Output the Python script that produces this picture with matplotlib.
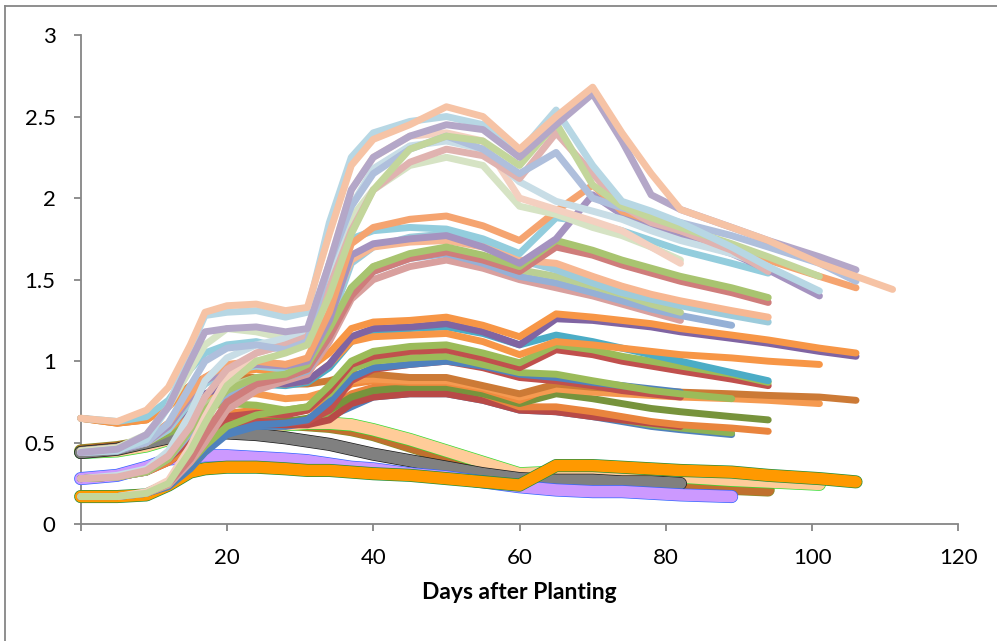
"""Leaf area index curves over the growing season."""

from __future__ import annotations

import matplotlib

matplotlib.use("Agg")

import matplotlib.pyplot as plt
from matplotlib.lines import Line2D


# Sampling days shared by every series (each series stops at its own last day).
DAYS = [
    0, 5, 9, 12, 15, 17, 20, 24, 28, 31, 34, 37, 40, 45,
    50, 55, 60, 65, 70, 74, 78, 82, 89, 94, 101, 106, 111,
]

X_TICKS = [0, 20, 40, 60, 80, 100, 120]
X_TICK_LABELS = ["", "20", "40", "60", "80", "100", "120"]
Y_TICKS = [0, 0.5, 1, 1.5, 2, 2.5, 3]
Y_TICK_LABELS = ["0", "0.5", "1", "1.5", "2", "2.5", "3"]

# Lines with markers (low values).
gray_marked = [0.44, 0.46, 0.5, 0.53, 0.55, 0.56, 0.56, 0.55, 0.53, 0.51, 0.49,
               0.46, 0.43, 0.39, 0.35, 0.31, 0.28, 0.27, 0.27, 0.26, 0.26, 0.25]
lavender_marked = [0.28, 0.3, 0.35, 0.4, 0.41, 0.42, 0.42, 0.41, 0.4, 0.39, 0.37,
                   0.35, 0.34, 0.31, 0.29, 0.26, 0.23, 0.21, 0.2, 0.2, 0.19,
                   0.18, 0.17]
orange_marked = [0.17, 0.17, 0.18, 0.24, 0.32, 0.34, 0.35, 0.35, 0.34, 0.33,
                 0.33, 0.32, 0.31, 0.3, 0.28, 0.26, 0.24, 0.36, 0.36, 0.35,
                 0.34, 0.33, 0.32, 0.3, 0.28, 0.26]
brown_marked = [0.45, 0.47, 0.5, 0.55, 0.58, 0.6, 0.62, 0.63, 0.62, 0.61, 0.6,
                0.58, 0.55, 0.48, 0.41, 0.34, 0.27, 0.25, 0.24, 0.24, 0.23,
                0.23, 0.22, 0.21]
peach_marked = [0.44, 0.45, 0.48, 0.52, 0.55, 0.56, 0.58, 0.6, 0.61, 0.62, 0.62,
                0.61, 0.58, 0.52, 0.45, 0.38, 0.31, 0.32, 0.32, 0.31, 0.3, 0.29,
                0.27, 0.26, 0.245]

# Darker solid lines (middle values).
dark_orange_a = [0.65, 0.62, 0.64, 0.72, 0.85, 0.9, 0.92, 0.95, 0.93, 0.95,
                 1.05, 1.2, 1.24, 1.25, 1.27, 1.22, 1.15, 1.29, 1.27, 1.25,
                 1.23, 1.2, 1.16, 1.13, 1.08, 1.05]
dark_purple = [0.45, 0.47, 0.52, 0.6, 0.72, 0.8, 0.85, 0.88, 0.86, 0.88, 0.98,
               1.15, 1.2, 1.21, 1.23, 1.18, 1.1, 1.26, 1.25, 1.23, 1.21, 1.18,
               1.14, 1.11, 1.06, 1.03]
dark_orange_b = [0.44, 0.46, 0.5, 0.58, 0.7, 0.78, 0.84, 0.87, 0.86, 0.88, 0.98,
                 1.12, 1.15, 1.16, 1.17, 1.12, 1.04, 1.12, 1.1, 1.08, 1.06,
                 1.04, 1.02, 1.0, 0.98]
dark_aqua = [0.28, 0.29, 0.33, 0.42, 0.6, 0.72, 0.82, 0.86, 0.85, 0.87, 0.96,
             1.12, 1.18, 1.2, 1.21, 1.17, 1.1, 1.16, 1.12, 1.08, 1.04, 1.0,
             0.93, 0.88]
dark_green_a = [0.17, 0.17, 0.19, 0.25, 0.38, 0.48, 0.6, 0.67, 0.7, 0.72, 0.85,
                1.0, 1.06, 1.09, 1.1, 1.05, 0.99, 1.1, 1.07, 1.03, 1.0, 0.97,
                0.92, 0.87]
dark_red_a = [0.28, 0.29, 0.32, 0.4, 0.55, 0.62, 0.66, 0.68, 0.67, 0.7, 0.82,
              0.98, 1.03, 1.06, 1.07, 1.02, 0.96, 1.07, 1.04, 1.0, 0.97, 0.94,
              0.89, 0.85]
dark_green_b = [0.45, 0.46, 0.5, 0.58, 0.68, 0.72, 0.74, 0.73, 0.7, 0.72, 0.8,
                0.95, 1.0, 1.02, 1.03, 0.98, 0.93, 0.92, 0.88, 0.85, 0.82, 0.8,
                0.77]
dark_blue_a = [0.17, 0.17, 0.19, 0.24, 0.36, 0.46, 0.56, 0.61, 0.62, 0.64, 0.75,
               0.9, 0.96, 0.98, 1.0, 0.97, 0.92, 0.9, 0.87, 0.85, 0.83, 0.81]
dark_red_b = [0.28, 0.29, 0.33, 0.4, 0.52, 0.58, 0.62, 0.63, 0.62, 0.63, 0.7,
              0.88, 0.95, 0.98, 1.0, 0.96, 0.9, 0.88, 0.85, 0.82, 0.8, 0.78]
dark_brown = [0.65, 0.62, 0.64, 0.75, 0.85, 0.88, 0.9, 0.9, 0.86, 0.86, 0.88,
              0.92, 0.92, 0.9, 0.9, 0.85, 0.8, 0.86, 0.84, 0.83, 0.82, 0.81,
              0.8, 0.79, 0.78, 0.76]
dark_orange_c = [0.45, 0.47, 0.52, 0.62, 0.72, 0.76, 0.8, 0.8, 0.77, 0.78, 0.82,
                 0.88, 0.89, 0.88, 0.88, 0.84, 0.78, 0.83, 0.81, 0.8, 0.79,
                 0.78, 0.77, 0.76, 0.74]
dark_orange_d = [0.28, 0.29, 0.33, 0.42, 0.55, 0.62, 0.68, 0.7, 0.68, 0.7, 0.76,
                 0.86, 0.88, 0.87, 0.87, 0.83, 0.76, 0.85, 0.84, 0.82, 0.81,
                 0.8, 0.79, 0.78]
dark_olive = [0.17, 0.17, 0.19, 0.24, 0.36, 0.46, 0.58, 0.63, 0.63, 0.65, 0.7,
              0.78, 0.82, 0.84, 0.84, 0.8, 0.74, 0.8, 0.77, 0.74, 0.71, 0.69,
              0.66, 0.64]
dark_orange_e = [0.28, 0.29, 0.32, 0.38, 0.48, 0.55, 0.62, 0.64, 0.63, 0.64,
                 0.7, 0.8, 0.84, 0.86, 0.86, 0.8, 0.72, 0.72, 0.69, 0.66, 0.63,
                 0.61, 0.59, 0.57]
dark_green_c = [0.45, 0.46, 0.5, 0.56, 0.62, 0.64, 0.65, 0.65, 0.63, 0.63, 0.67,
                0.76, 0.8, 0.82, 0.82, 0.78, 0.72, 0.7, 0.67, 0.64, 0.61, 0.59,
                0.56]
dark_blue_b = [0.17, 0.17, 0.19, 0.23, 0.34, 0.44, 0.55, 0.6, 0.6, 0.62, 0.66,
               0.72, 0.78, 0.8, 0.8, 0.76, 0.7, 0.69, 0.66, 0.63, 0.6, 0.58,
               0.55]
dark_red_c = [0.28, 0.29, 0.32, 0.38, 0.47, 0.54, 0.6, 0.62, 0.61, 0.61, 0.64,
              0.74, 0.78, 0.8, 0.8, 0.76, 0.7, 0.69, 0.66, 0.64, 0.62, 0.6]

# Light solid lines, middle-high band.
mid_orange = [0.45, 0.47, 0.52, 0.62, 0.8, 0.9, 0.98, 1.0, 0.98, 1.02, 1.3,
              1.72, 1.82, 1.87, 1.89, 1.83, 1.74, 1.92, 2.08, 1.92, 1.86, 1.8,
              1.7, 1.62, 1.52, 1.45]
mid_purple = [0.44, 0.45, 0.5, 0.6, 0.78, 0.88, 0.95, 0.98, 0.97, 1.0, 1.25,
              1.65, 1.72, 1.75, 1.77, 1.7, 1.6, 1.75, 2.02, 1.9, 1.82, 1.76,
              1.66, 1.56, 1.4]
mid_aqua = [0.65, 0.63, 0.66, 0.76, 0.95, 1.05, 1.1, 1.12, 1.08, 1.12, 1.45,
            1.75, 1.8, 1.82, 1.81, 1.75, 1.66, 1.88, 1.85, 1.8, 1.74, 1.68,
            1.6, 1.54]
mid_green = [0.28, 0.29, 0.32, 0.4, 0.58, 0.7, 0.82, 0.9, 0.92, 0.98, 1.2,
             1.45, 1.58, 1.66, 1.7, 1.65, 1.58, 1.74, 1.68, 1.62, 1.57, 1.52,
             1.45, 1.39]
mid_red = [0.17, 0.17, 0.19, 0.25, 0.4, 0.55, 0.75, 0.86, 0.9, 0.95, 1.15,
           1.4, 1.55, 1.63, 1.67, 1.62, 1.55, 1.7, 1.65, 1.59, 1.54, 1.49,
           1.42, 1.36]
mid_peach = [0.45, 0.46, 0.5, 0.6, 0.78, 0.9, 0.97, 1.0, 0.98, 1.0, 1.3, 1.62,
             1.7, 1.73, 1.74, 1.7, 1.62, 1.6, 1.52, 1.46, 1.41, 1.37, 1.31,
             1.27]
mid_steel = [0.28, 0.29, 0.32, 0.4, 0.56, 0.68, 0.8, 0.88, 0.9, 0.94, 1.15,
             1.42, 1.55, 1.63, 1.66, 1.6, 1.52, 1.48, 1.42, 1.37, 1.32, 1.28,
             1.22]
mid_rose = [0.17, 0.17, 0.19, 0.24, 0.38, 0.5, 0.7, 0.82, 0.88, 0.92, 1.12,
            1.38, 1.5, 1.58, 1.62, 1.57, 1.5, 1.45, 1.4, 1.35, 1.3, 1.25]
mid_sky = [0.44, 0.45, 0.5, 0.58, 0.75, 0.86, 0.94, 0.97, 0.95, 0.98, 1.22,
           1.6, 1.7, 1.76, 1.78, 1.72, 1.62, 1.56, 1.48, 1.42, 1.38, 1.34,
           1.28, 1.24]
mid_sage = [0.28, 0.29, 0.33, 0.42, 0.6, 0.72, 0.84, 0.9, 0.9, 0.95, 1.18,
            1.45, 1.58, 1.65, 1.68, 1.63, 1.56, 1.52, 1.46, 1.41, 1.35, 1.3]

# Palest solid lines, highest band.
top_peach = [0.65, 0.63, 0.7, 0.84, 1.1, 1.3, 1.34, 1.35, 1.31, 1.33, 1.78,
             2.2, 2.36, 2.45, 2.56, 2.5, 2.3, 2.5, 2.68, 2.4, 2.15, 1.93,
             1.82, 1.74, 1.6, 1.52, 1.44]
top_lilac = [0.44, 0.46, 0.55, 0.72, 1.0, 1.18, 1.2, 1.21, 1.18, 1.2, 1.6,
             2.05, 2.25, 2.38, 2.45, 2.42, 2.25, 2.45, 2.64, 2.35, 2.02, 1.93,
             1.82, 1.74, 1.64, 1.56]
top_blue = [0.44, 0.45, 0.52, 0.72, 1.08, 1.28, 1.3, 1.31, 1.27, 1.3, 1.85,
            2.25, 2.4, 2.47, 2.5, 2.45, 2.28, 2.54, 2.2, 1.98, 1.92, 1.85,
            1.7, 1.58, 1.43]
top_green = [0.17, 0.17, 0.19, 0.25, 0.45, 0.62, 0.85, 1.0, 1.05, 1.1, 1.4,
             1.78, 2.05, 2.3, 2.38, 2.35, 2.2, 2.46, 2.08, 1.95, 1.88, 1.82,
             1.72, 1.64, 1.52]
top_pink = [0.28, 0.29, 0.33, 0.42, 0.6, 0.78, 0.95, 1.05, 1.1, 1.15, 1.45,
            1.8, 2.05, 2.22, 2.3, 2.26, 2.12, 2.4, 2.15, 1.95, 1.85, 1.8,
            1.68, 1.55]
top_periwinkle = [0.44, 0.46, 0.5, 0.62, 0.85, 1.0, 1.08, 1.1, 1.07, 1.12, 1.6,
                  1.95, 2.15, 2.3, 2.38, 2.3, 2.15, 2.28, 2.0, 1.94, 1.9,
                  1.85, 1.77, 1.7, 1.6, 1.49]
top_sage = [0.45, 0.47, 0.55, 0.72, 0.95, 1.1, 1.2, 1.18, 1.14, 1.15, 1.5,
            1.88, 2.05, 2.2, 2.25, 2.2, 1.95, 1.9, 1.82, 1.77, 1.7, 1.62]
top_shell = [0.17, 0.17, 0.2, 0.27, 0.48, 0.66, 0.9, 1.05, 1.1, 1.18, 1.6,
             2.05, 2.25, 2.38, 2.4, 2.35, 2.0, 1.93, 1.86, 1.8, 1.7, 1.6]
top_ice = [0.28, 0.3, 0.34, 0.45, 0.68, 0.88, 1.02, 1.1, 1.14, 1.18, 1.55,
           1.95, 2.18, 2.32, 2.35, 2.3, 2.1, 1.98, 1.92, 1.87, 1.8, 1.74,
           1.66, 1.58]


def plot_marked(axis, values, face, edge):
    """Thick band with a thin outline, the low-value marker style."""

    days = DAYS[: len(values)]

    axis.plot(
        days,
        values,
        color=edge,
        linewidth=9.4,
        solid_capstyle="round",
        solid_joinstyle="round",
        clip_on=False,
        zorder=3,
    )

    axis.plot(
        days,
        values,
        color=face,
        linewidth=8.4,
        solid_capstyle="round",
        solid_joinstyle="round",
        clip_on=False,
        zorder=3,
    )


def plot_solid(axis, values, color, width=5.0):
    """Plain thick line with round ends."""

    axis.plot(
        DAYS[: len(values)],
        values,
        color=color,
        linewidth=width,
        solid_capstyle="round",
        solid_joinstyle="round",
        clip_on=False,
        zorder=3,
    )


def create_chart(file_path: str = "out.png") -> str:
    plt.rcParams["font.family"] = ["Lato", "DejaVu Sans"]

    figure = plt.figure(
        figsize=(9.97, 6.41),
        dpi=100,
    )

    axis = figure.add_axes(
        [0.0809, 0.1821, 0.8804, 0.7633]
    )

    marked = [
        (brown_marked, "#C0702E", "#8C8C2A"),
        (peach_marked, "#FFCC99", "#33DD33"),
        (gray_marked, "#808080", "#1A1A1A"),
        (lavender_marked, "#CC99FF", "#3366FF"),
        (orange_marked, "#FF9900", "#1F8F3A"),
    ]

    for values, face, edge in marked:
        plot_marked(axis, values, face, edge)

    dark = [
        (dark_blue_b, "#4F81BD"),
        (dark_green_c, "#8DB255"),
        (dark_red_c, "#B84A47"),
        (dark_orange_e, "#E9843D"),
        (dark_olive, "#77933C"),
        (dark_orange_d, "#F08A3E"),
        (dark_orange_c, "#F59A50"),
        (dark_brown, "#CC7A36"),
        (dark_red_b, "#C0504D"),
        (dark_blue_a, "#4F81BD"),
        (dark_green_b, "#9BBB59"),
        (dark_red_a, "#C0504D"),
        (dark_green_a, "#9BBB59"),
        (dark_aqua, "#4BACC6"),
        (dark_orange_b, "#F79646"),
        (dark_purple, "#8064A2"),
        (dark_orange_a, "#F79646"),
    ]

    for values, color in dark:
        plot_solid(axis, values, color)

    middle = [
        (mid_rose, "#D9A09E"),
        (mid_steel, "#95B0D6"),
        (mid_sage, "#BACF93"),
        (mid_sky, "#9CCBDB"),
        (mid_peach, "#F7B792"),
        (mid_red, "#CF7D7B"),
        (mid_green, "#A8C470"),
        (mid_aqua, "#93CDDD"),
        (mid_purple, "#A593C0"),
        (mid_orange, "#F5A470"),
    ]

    for values, color in middle:
        plot_solid(axis, values, color)

    top = [
        (top_sage, "#D6E3C4"),
        (top_shell, "#F4D0C0"),
        (top_ice, "#C8DDE6"),
        (top_pink, "#E0B3B0"),
        (top_periwinkle, "#AFBFDC"),
        (top_green, "#C3D69B"),
        (top_blue, "#B7D7E4"),
        (top_lilac, "#B4A7C8"),
        (top_peach, "#F6C3A5"),
    ]

    for values, color in top:
        plot_solid(axis, values, color)

    axis.set_xlim(0, 120)
    axis.set_ylim(0, 3)

    axis.set_xticks(X_TICKS)
    axis.set_xticklabels(X_TICK_LABELS)
    axis.set_yticks(Y_TICKS)
    axis.set_yticklabels(Y_TICK_LABELS)

    for side in ["top", "right"]:
        axis.spines[side].set_visible(False)

    for side in ["left", "bottom"]:
        axis.spines[side].set_color("#868686")
        axis.spines[side].set_linewidth(1.3)
        axis.spines[side].set_zorder(2)

    axis.tick_params(
        axis="both",
        direction="out",
        length=5,
        width=1.3,
        color="#868686",
        labelsize=16,
        labelcolor="black",
    )
    axis.tick_params(axis="y", pad=13)
    axis.tick_params(axis="x", pad=12)

    axis.set_xlabel(
        "Days after Planting",
        fontsize=16.5,
        fontweight="bold",
        labelpad=10,
    )

    # Outer chart-area border (only top and left edges fall inside the image).
    figure.add_artist(
        Line2D(
            [5 / 997, 1.0],
            [1 - 6 / 641, 1 - 6 / 641],
            transform=figure.transFigure,
            color="#868686",
            linewidth=1.3,
        )
    )
    figure.add_artist(
        Line2D(
            [5 / 997, 5 / 997],
            [0.0, 1 - 6 / 641],
            transform=figure.transFigure,
            color="#868686",
            linewidth=1.3,
        )
    )

    figure.savefig(file_path, dpi=100)
    plt.close(figure)

    return file_path


if __name__ == "__main__":
    create_chart()
